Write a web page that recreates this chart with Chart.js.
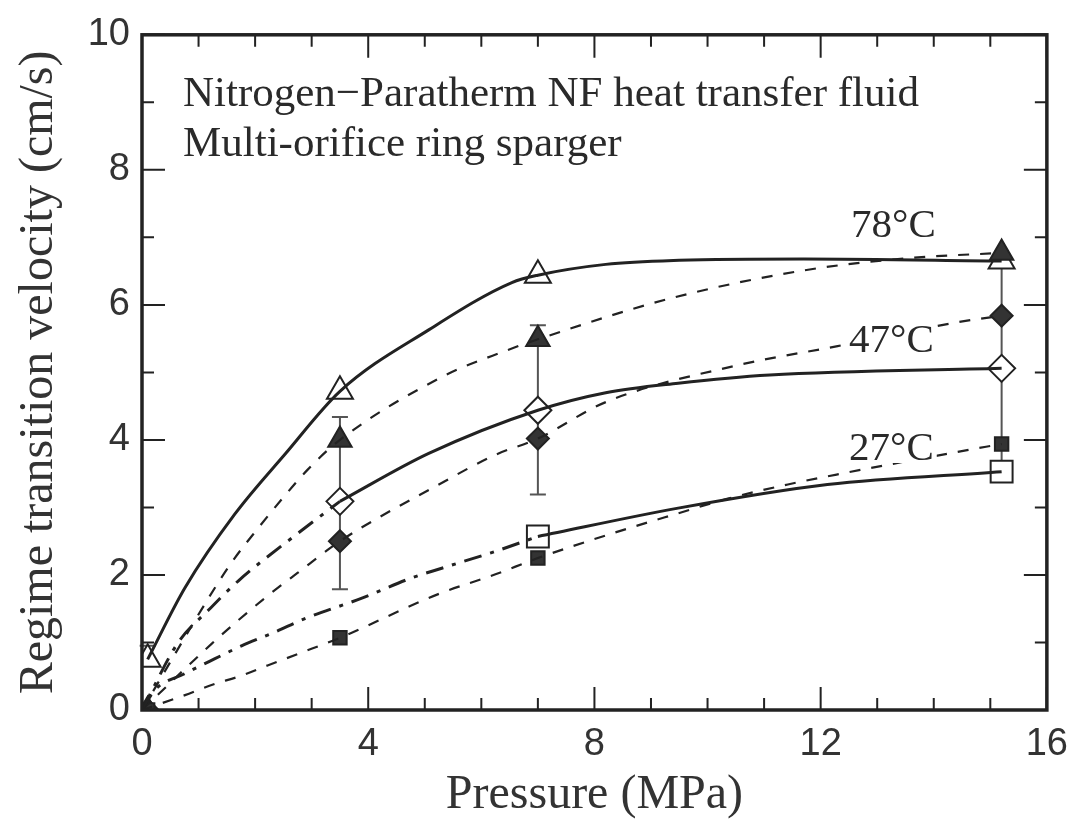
<!DOCTYPE html>
<html>
<head>
<meta charset="utf-8">
<script src="https://cdn.jsdelivr.net/npm/chart.js@4.4.1/dist/chart.umd.min.js"></script>
<style>
  html, body { margin: 0; padding: 0; background: #fff; }
  #wrap { width: 1080px; height: 833px; }
</style>
</head>
<body>
<div id="wrap"><canvas id="myChart" width="1080" height="833"></canvas></div>
<script>
// measured points (pressure in MPa, velocity in cm/s)
const pOpen78 = [0.1, 3.5, 7, 15.2];
const vOpen78 = [0.75, 4.72, 6.44, 6.65];
const pFill78 = [0.1, 3.5, 7, 15.2];
const vFill78 = [0, 4.0, 5.49, 6.77];

const pOpen47 = [3.5, 7, 15.2];
const vOpen47 = [3.09, 4.44, 5.06];
const pFill47 = [0.1, 3.5, 7, 15.2];
const vFill47 = [0, 2.5, 4.02, 5.84];

const pOpen27 = [7, 15.2];
const vOpen27 = [2.57, 3.53];
const pFill27 = [0.1, 3.5, 7, 15.2];
const vFill27 = [0, 1.07, 2.25, 3.94];

// error bars
const errP = [0.1, 3.5, 7, 15.2];
const errLow = [0.75, 1.79, 3.19, 3.53];
const errHigh = [0.95, 4.34, 5.7, 6.65];

// fitted curves
const fitP78open = [0.1, 0.76, 1.64, 2.52, 3.5, 5.07, 6.54, 7, 8.2, 9.5, 11.7, 15.2];
const fitV78open = [0.75, 1.81, 2.9, 3.78, 4.72, 5.63, 6.33, 6.44, 6.6, 6.66, 6.68, 6.65];
const fitP78fill = [0, 1.29, 1.64, 2.05, 2.47, 2.93, 3.5, 5.37, 6.43, 7, 9.36, 11.7, 13.5, 15.2];
const fitV78fill = [0, 1.81, 2.25, 2.69, 3.12, 3.56, 4.0, 4.96, 5.32, 5.49, 6.1, 6.51, 6.69, 6.77];

const fitP47low = [0, 0.64, 1.2, 1.7, 2.73, 3.5];
const fitV47low = [0, 1.0, 1.5, 1.91, 2.6, 3.09];
const fitP47open = [3.5, 5.07, 7, 8.2, 9.48, 11.1, 15.2];
const fitV47open = [3.09, 3.8, 4.44, 4.7, 4.84, 4.96, 5.06];
const fitP47fill = [0, 1.23, 1.69, 2.22, 2.75, 3.5, 5.25, 6.25, 7, 8.2, 10.5, 12.3, 14.4, 15.2];
const fitV47fill = [0, 0.98, 1.32, 1.69, 2.03, 2.5, 3.34, 3.78, 4.02, 4.56, 5.1, 5.39, 5.74, 5.84];

const fitP27low = [0, 0.23, 0.76, 1.29, 1.76, 2.34, 2.87, 3.9, 4.78, 5.3, 6.25, 7];
const fitV27low = [0, 0.3, 0.54, 0.76, 0.95, 1.15, 1.35, 1.66, 1.96, 2.1, 2.35, 2.57];
const fitP27open = [7, 9.48, 12.12, 15.2];
const fitV27open = [2.57, 2.99, 3.34, 3.53];
const fitP27fill = [0, 0.76, 1.23, 1.76, 2.22, 2.82, 3.5, 5.25, 6.25, 7, 8.37, 9.43, 10.36, 11.42, 12.3, 14.4, 15.2];
const fitV27fill = [0, 0.22, 0.37, 0.51, 0.66, 0.85, 1.07, 1.72, 2.01, 2.25, 2.63, 2.9, 3.13, 3.34, 3.49, 3.82, 3.94];

const tempLabels = ['78\u00B0C', '47\u00B0C', '27\u00B0C'];
const noteLines = ['Nitrogen\u2212Paratherm NF heat transfer fluid', 'Multi-orifice ring sparger'];

const ink = '#222';
const serif = "'Liberation Serif', 'Times New Roman', serif";
const sans = "'Liberation Sans', Arial, sans-serif";

function pts(xs, ys) {
  return xs.map((x, i) => ({x: x, y: ys[i]}));
}

function curve(xs, ys, dash, width) {
  return {
    data: pts(xs, ys),
    showLine: true,
    pointRadius: 0,
    borderColor: ink,
    borderWidth: width,
    borderDash: dash,
    fill: false,
    cubicInterpolationMode: 'monotone'
  };
}

function marks(xs, ys, style, r, filled) {
  return {
    data: pts(xs, ys),
    showLine: false,
    pointStyle: style,
    pointRadius: r,
    pointBorderWidth: 2,
    pointBorderColor: ink,
    pointBackgroundColor: filled ? '#333' : '#fff'
  };
}

const solid = [];
const dashed = [11, 11];
const dashDot = [18, 9, 4, 9];

const datasets = [
  curve(fitP78open, fitV78open, solid, 3),
  curve(fitP78fill, fitV78fill, dashed, 2.2),
  curve(fitP47low, fitV47low, dashDot, 3),
  curve(fitP47open, fitV47open, solid, 3),
  curve(fitP47fill, fitV47fill, dashed, 2.2),
  curve(fitP27low, fitV27low, dashDot, 3),
  curve(fitP27open, fitV27open, solid, 3),
  curve(fitP27fill, fitV27fill, dashed, 2.2),
  marks(pFill27, vFill27, 'rect', 9.5, true),
  marks(pFill47, vFill47, 'rectRot', 11, true),
  marks(pFill78, vFill78, 'triangle', 13.5, true),
  marks(pOpen27, vOpen27, 'rect', 15.5, false),
  marks(pOpen47, vOpen47, 'rectRot', 13.5, false),
  marks(pOpen78, vOpen78, 'triangle', 15, false)
];

// white boxes behind the temperature labels, drawn before the curves? no - after, to cut the dashes
function tempLabel(ctx, text, x, base) {
  ctx.font = '41px ' + serif;
  const w = ctx.measureText(text).width;
  ctx.fillStyle = '#fff';
  ctx.fillRect(x - 3, base - 31, w + 6, 34);
  ctx.fillStyle = '#2a2a2a';
  ctx.fillText(text, x, base);
}

// error bars under the markers
const errorBars = {
  id: 'errorBars',
  beforeDatasetsDraw(chart) {
    const {ctx, scales: {x, y}} = chart;
    ctx.save();
    ctx.strokeStyle = '#555';
    ctx.lineWidth = 2;
    errP.forEach((p, i) => {
      const px = x.getPixelForValue(p);
      const lo = y.getPixelForValue(errLow[i]);
      const hi = y.getPixelForValue(errHigh[i]);
      ctx.beginPath();
      ctx.moveTo(px, lo);
      ctx.lineTo(px, hi);
      if (i > 0 && i < 3) {
        ctx.moveTo(px - 8, lo); ctx.lineTo(px + 8, lo);
        ctx.moveTo(px - 8, hi); ctx.lineTo(px + 8, hi);
      } else if (i === 0) {
        ctx.moveTo(px - 8, hi); ctx.lineTo(px + 8, hi);
      }
      ctx.stroke();
    });
    ctx.restore();
  }
};

// frame, inward ticks and annotations
const frame = {
  id: 'frame',
  afterDatasetsDraw(chart) {
    const {ctx} = chart;
    ctx.save();
    ctx.textBaseline = 'alphabetic';
    ctx.textAlign = 'left';
    tempLabel(ctx, tempLabels[0], 851, 237);
    tempLabel(ctx, tempLabels[1], 849, 352);
    tempLabel(ctx, tempLabels[2], 849, 460);
    ctx.restore();
  },
  afterDraw(chart) {
    const {ctx, chartArea: a, scales: {x, y}} = chart;
    ctx.save();
    ctx.strokeStyle = ink;
    ctx.lineWidth = 2;
    ctx.beginPath();
    for (let v = 0; v <= 16; v++) {
      const px = x.getPixelForValue(v);
      const len = v % 4 === 0 ? 23 : 12;
      ctx.moveTo(px, a.bottom); ctx.lineTo(px, a.bottom - len);
      ctx.moveTo(px, a.top); ctx.lineTo(px, a.top + len);
    }
    for (let v = 0; v <= 10; v++) {
      const py = y.getPixelForValue(v);
      const len = v % 2 === 0 ? 23 : 12;
      ctx.moveTo(a.left, py); ctx.lineTo(a.left + len, py);
      ctx.moveTo(a.right, py); ctx.lineTo(a.right - len, py);
    }
    ctx.stroke();
    ctx.lineWidth = 3.5;
    ctx.strokeRect(a.left, a.top, a.right - a.left, a.bottom - a.top);

    ctx.fillStyle = '#2a2a2a';
    ctx.font = '43px ' + serif;
    ctx.textBaseline = 'alphabetic';
    ctx.textAlign = 'left';
    ctx.fillText(noteLines[0], 183, 106);
    ctx.fillText(noteLines[1], 183, 156);
    ctx.restore();
  }
};

const options = {
  responsive: false,
  animation: false,
  layout: { padding: { top: 30, right: 30, left: 0, bottom: 0 } },
  plugins: { legend: { display: false }, tooltip: { enabled: false } },
  scales: {
    x: {
      type: 'linear',
      min: 0,
      max: 16,
      afterFit: (s) => { s.height = 123; },
      ticks: { stepSize: 4, color: '#333', padding: 12, font: { family: sans, size: 38 } },
      grid: { display: false, drawTicks: false },
      border: { display: false },
      title: { display: true, text: 'Pressure (MPa)', color: '#333', padding: { top: 0, bottom: 14 },
               font: { family: serif, size: 48, lineHeight: 1 } }
    },
    y: {
      type: 'linear',
      min: 0,
      max: 10,
      afterFit: (s) => { s.width = 142; },
      ticks: { stepSize: 2, color: '#333', padding: 12, font: { family: sans, size: 38 } },
      grid: { display: false, drawTicks: false },
      border: { display: false },
      title: { display: true, text: 'Regime transition velocity (cm/s)', color: '#333', padding: { top: 15, bottom: 0 },
               font: { family: serif, size: 48, lineHeight: 1 } }
    }
  }
};

const ctx = document.getElementById('myChart').getContext('2d');
const chart = new Chart(ctx, {
  type: 'scatter',
  data: { datasets: datasets },
  options: options,
  plugins: [errorBars, frame]
});
</script>
</body>
</html>
